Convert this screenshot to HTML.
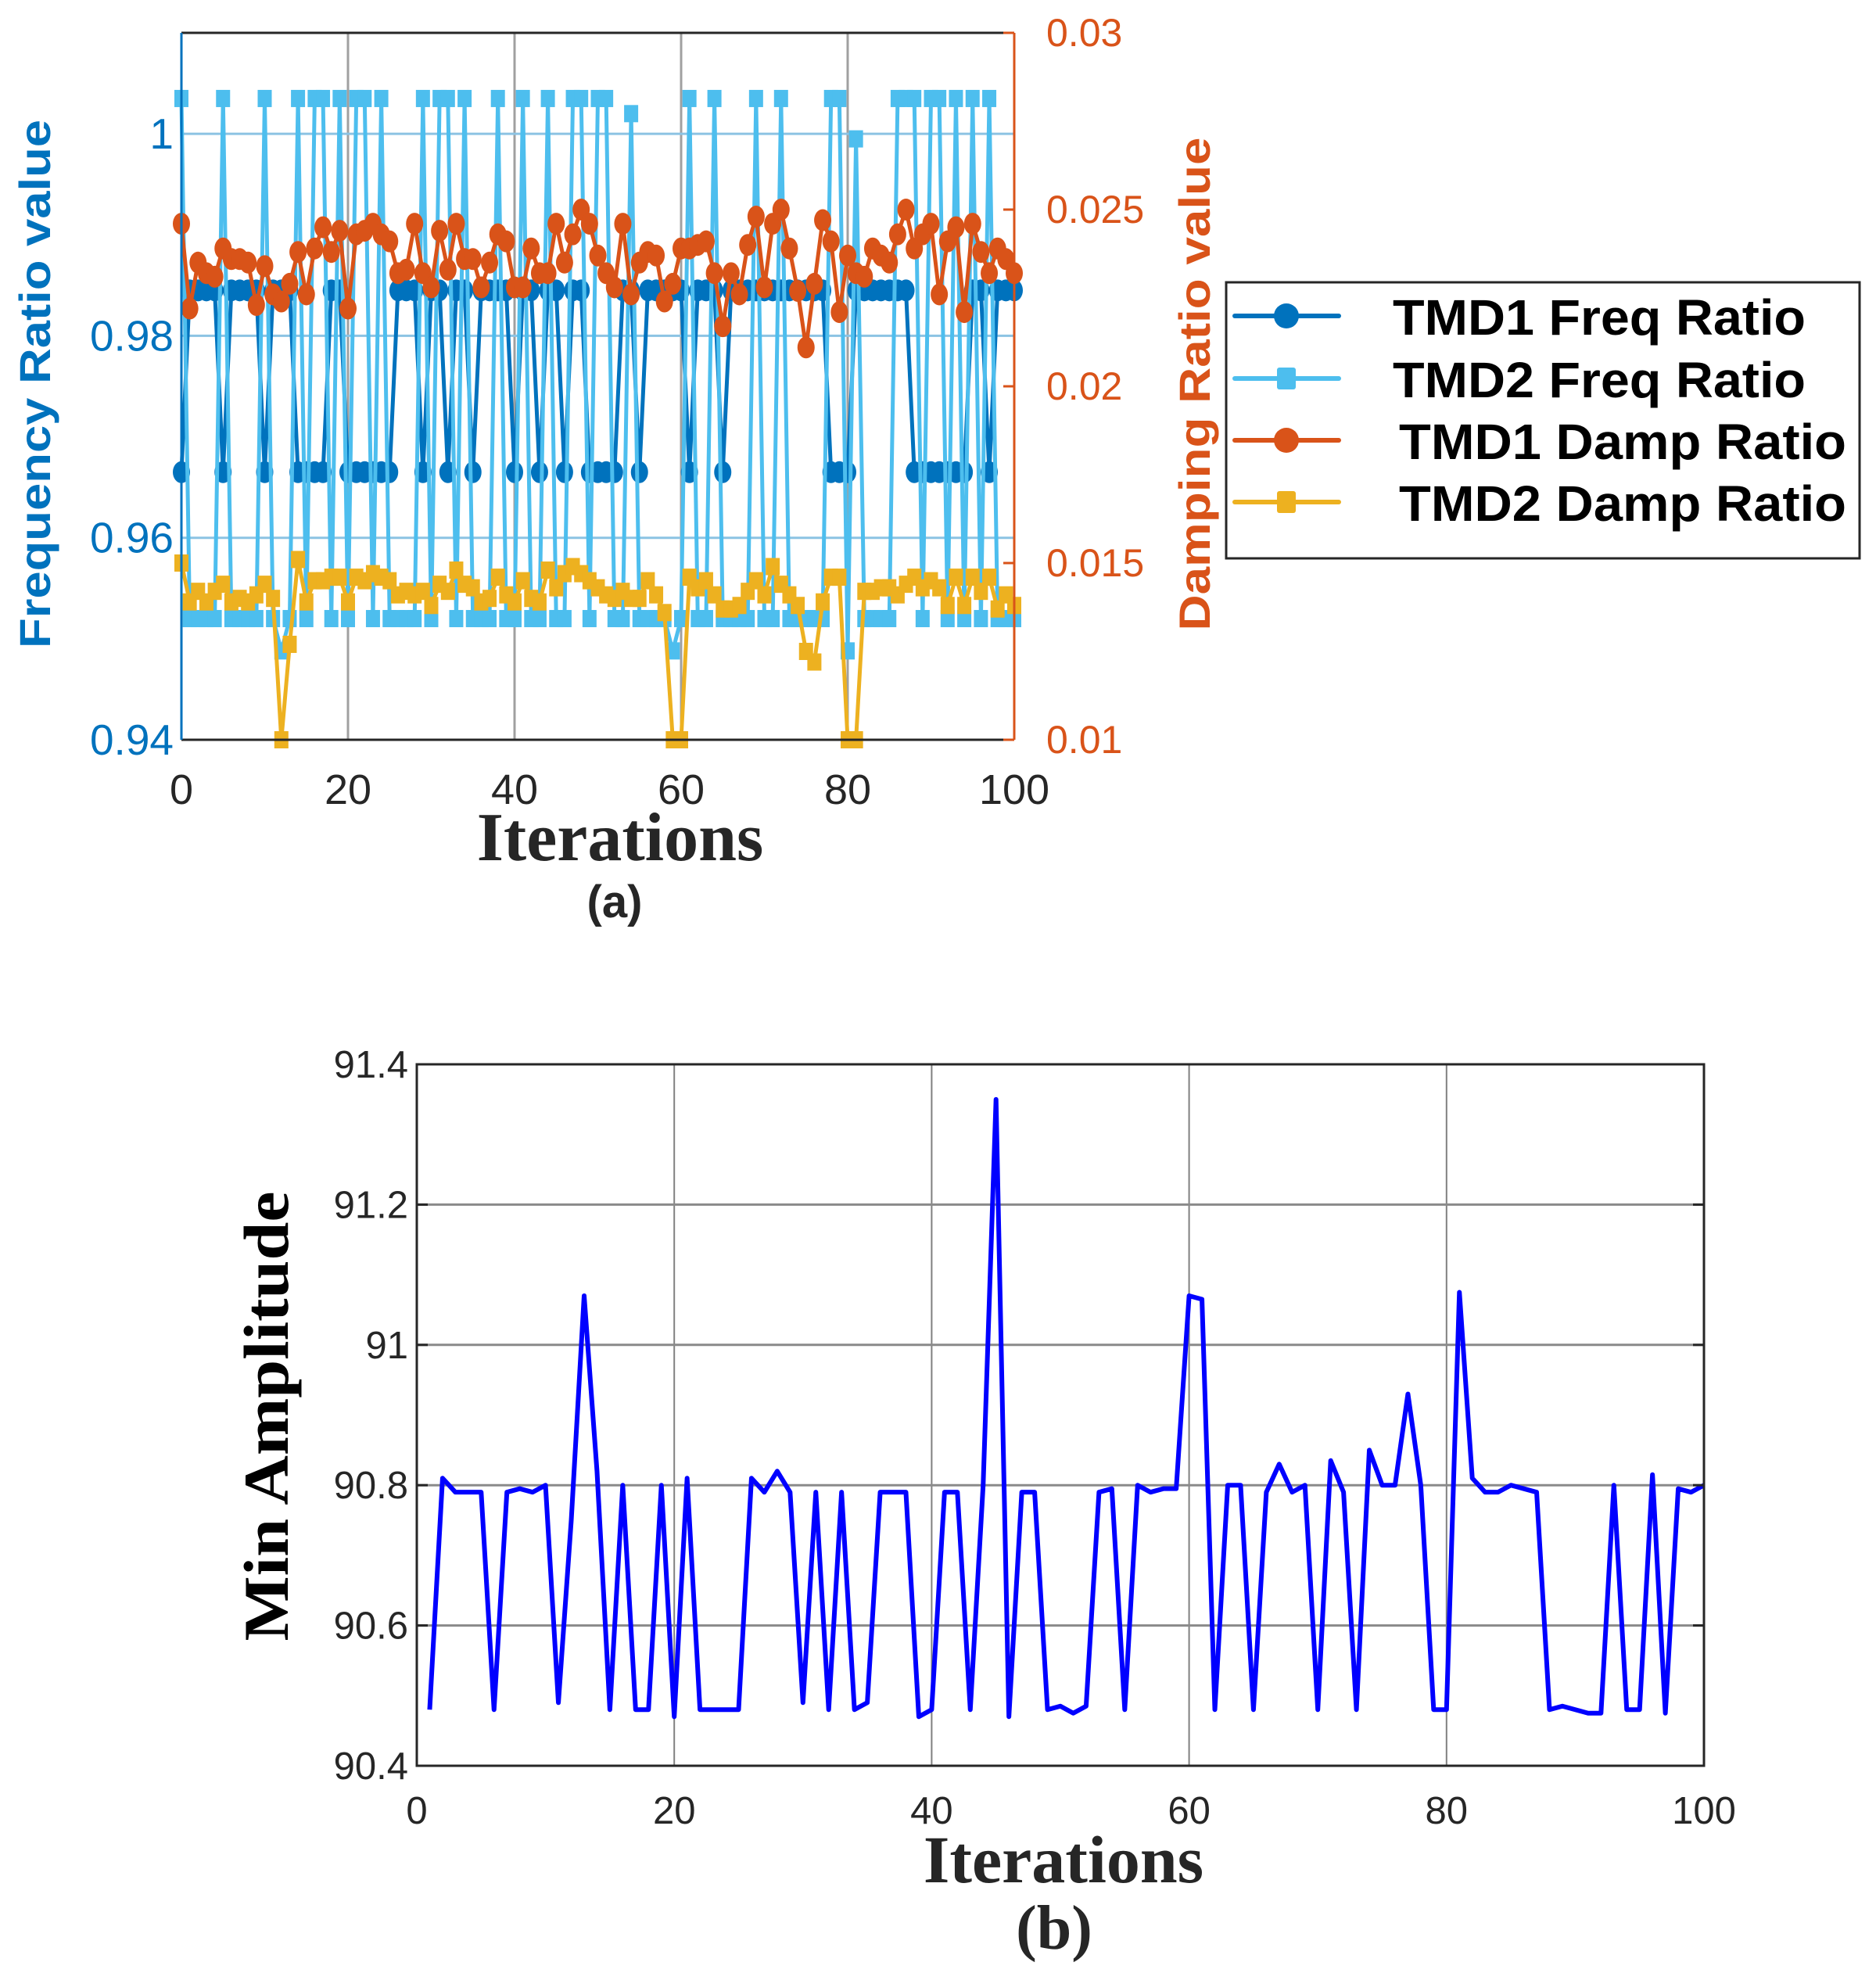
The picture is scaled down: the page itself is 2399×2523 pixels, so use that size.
<!DOCTYPE html>
<html><head><meta charset="utf-8"><style>
html,body{margin:0;padding:0;background:#fff;}
svg{display:block;}
</style></head><body>
<svg id="fig" xmlns="http://www.w3.org/2000/svg" width="2399" height="2523" viewBox="0 0 2399 2523">
<rect width="2399" height="2523" fill="#fff"/>
<g id="top"></g>
<g id="bot"></g>
</svg>
<script>
const xTicksA = [0,20,40,60,80,100];
const yTicksLeft = [0.94,0.96,0.98,1];
const yTickLabelsLeft = ['0.94','0.96','0.98','1'];
const yTicksRight = [0.01,0.015,0.02,0.025,0.03];
const yTickLabelsRight = ['0.01','0.015','0.02','0.025','0.03'];
const H=1.0035, L=0.952, h=0.9845, l=0.9665;
const tmd2Freq = [H,L,L,L,L,H,L,L,L,L,H,L,0.9488,L,H,L,H,H,L,H,L,H,H,L,H,L,L,L,L,H,L,H,H,L,H,L,L,L,H,L,L,H,L,L,H,L,L,H,H,L,H,H,L,L,1.002,L,L,L,L,0.9488,L,H,L,L,H,L,L,L,L,H,L,L,H,L,L,L,L,L,H,H,0.9488,0.9995,L,L,L,L,H,H,H,L,H,H,L,H,L,H,L,H,L,L,L];
const tmd1Freq = [l,h,h,h,h,l,h,h,h,h,l,h,h,h,l,l,l,l,h,h,l,l,l,l,l,l,h,h,h,l,h,h,l,h,h,l,h,h,h,h,l,h,h,l,h,h,l,h,h,l,l,l,l,h,h,l,h,h,h,h,h,l,h,h,h,l,h,h,h,h,h,h,h,h,h,h,h,h,l,l,l,h,h,h,h,h,h,h,l,l,l,l,l,l,l,h,h,l,h,h,h];
const tmd1Damp = [0.0246,0.0222,0.0235,0.0232,0.0231,0.0239,0.0236,0.0236,0.0235,0.0223,0.0234,0.0226,0.0224,0.0229,0.0238,0.0226,0.0239,0.0245,0.0238,0.0244,0.0222,0.0243,0.0244,0.0246,0.0243,0.0241,0.0232,0.0233,0.0246,0.0232,0.0228,0.0244,0.0233,0.0246,0.0236,0.0236,0.0228,0.0235,0.0243,0.0241,0.0228,0.0228,0.0239,0.0232,0.0232,0.0246,0.0235,0.0243,0.025,0.0246,0.0237,0.0232,0.0228,0.0246,0.0226,0.0235,0.0238,0.0237,0.0224,0.0229,0.0239,0.0239,0.024,0.0241,0.0232,0.0217,0.0232,0.0226,0.024,0.0248,0.0228,0.0246,0.025,0.0239,0.0227,0.0211,0.0229,0.0247,0.0241,0.0221,0.0237,0.0232,0.0231,0.0239,0.0237,0.0235,0.0243,0.025,0.0239,0.0243,0.0246,0.0226,0.0241,0.0245,0.0221,0.0246,0.0238,0.0232,0.0239,0.0236,0.0232];
const tmd2Damp = [0.0150,0.0139,0.0142,0.0139,0.0142,0.0144,0.0139,0.014,0.0139,0.0141,0.0144,0.014,0.010,0.0127,0.0151,0.0139,0.0145,0.0145,0.0146,0.0146,0.0139,0.0146,0.0145,0.0147,0.0146,0.0145,0.0141,0.0142,0.0141,0.0142,0.0138,0.0144,0.0142,0.0148,0.0144,0.0143,0.0139,0.014,0.0146,0.0141,0.0139,0.0145,0.014,0.0139,0.0148,0.0143,0.0147,0.0149,0.0147,0.0145,0.0143,0.0141,0.014,0.0142,0.014,0.014,0.0145,0.0141,0.0136,0.010,0.010,0.0146,0.0143,0.0145,0.0141,0.0137,0.0137,0.0138,0.0142,0.0145,0.0141,0.0149,0.0144,0.0141,0.0138,0.0125,0.0122,0.0139,0.0146,0.0146,0.010,0.010,0.0142,0.0142,0.0143,0.0143,0.0141,0.0144,0.0146,0.0143,0.0145,0.0143,0.0138,0.0146,0.0138,0.0146,0.0142,0.0146,0.0137,0.0141,0.0138];
const legendLabels = ['TMD1 Freq Ratio','TMD2 Freq Ratio','TMD1 Damp Ratio','TMD2 Damp Ratio'];

const xTicksB = [0,20,40,60,80,100];
const yTicksB = [90.4,90.6,90.8,91,91.2,91.4];
const yTickLabelsB = ['90.4','90.6','90.8','91','91.2','91.4'];
const minAmp = [90.48,90.81,90.79,90.79,90.79,90.48,90.79,90.795,90.79,90.80,90.49,90.75,91.07,90.82,90.48,90.80,90.48,90.48,90.80,90.47,90.81,90.48,90.48,90.48,90.48,90.81,90.79,90.82,90.79,90.49,90.79,90.48,90.79,90.48,90.49,90.79,90.79,90.79,90.47,90.48,90.79,90.79,90.48,90.80,91.35,90.47,90.79,90.79,90.48,90.485,90.475,90.485,90.79,90.795,90.48,90.80,90.79,90.795,90.795,91.07,91.065,90.48,90.80,90.80,90.48,90.79,90.83,90.79,90.80,90.48,90.835,90.79,90.48,90.85,90.80,90.80,90.93,90.80,90.48,90.48,91.075,90.81,90.79,90.79,90.80,90.795,90.79,90.48,90.485,90.48,90.475,90.475,90.80,90.48,90.48,90.815,90.475,90.795,90.79,90.80];

const NS='http://www.w3.org/2000/svg';
function mk(parent,tag,attrs,text){const e=document.createElementNS(NS,tag);for(const k in attrs)e.setAttribute(k,attrs[k]);if(text!==undefined)e.textContent=text;parent.appendChild(e);return e;}

// ---------- Chart A ----------
const A=document.getElementById('top');
const aL=232,aR=1297,aT=42,aB=946;
const ax=v=>aL+(v-0)/100*(aR-aL);
const ayL=v=>aB-(v-0.94)/(1.01-0.94)*(aB-aT);
const ayR=v=>aB-(v-0.01)/(0.03-0.01)*(aB-aT);
const cBlue='#0072BD',cLight='#4DBEEE',cOrange='#D95319',cYellow='#EDB120';
xTicksA.forEach(t=>{ if(t>0&&t<100){const g=mk(A,'line',{x1:ax(t),x2:ax(t),y1:aT,y2:aB,stroke:'#a0a0a0','stroke-width':3});

}});
yTicksLeft.forEach(t=>{ if(t>0.94){const g=mk(A,'line',{x1:aL,x2:aR,y1:ayL(t),y2:ayL(t),stroke:'#8cc3e3','stroke-width':3});

}});
function series(vals,yf,color,marker,name){
  const g=mk(A,'g',{});
  
  
  mk(g,'polyline',{points:vals.map((v,i)=>ax(i)+','+yf(v)).join(' '),fill:'none',stroke:color,'stroke-width':5,'stroke-linejoin':'round'});
  vals.forEach((v,i)=>{
    if(marker==='c') mk(g,'ellipse',{cx:ax(i),cy:yf(v),rx:11,ry:14,fill:color});
    else mk(g,'rect',{x:ax(i)-9,y:yf(v)-11,width:18,height:22,fill:color});
  });
}
series(tmd1Freq,ayL,cBlue,'c','series-tmd1-freq');
series(tmd2Freq,ayL,cLight,'s','series-tmd2-freq');
series(tmd1Damp,ayR,cOrange,'c','series-tmd1-damp');
series(tmd2Damp,ayR,cYellow,'s','series-tmd2-damp');
let e;
e=mk(A,'line',{x1:aL,x2:aR,y1:aT,y2:aT,stroke:'#262626','stroke-width':3});


e=mk(A,'line',{x1:aL,x2:aR,y1:aB,y2:aB,stroke:'#262626','stroke-width':3});


e=mk(A,'line',{x1:aL,x2:aL,y1:aT,y2:aB,stroke:cBlue,'stroke-width':3});


e=mk(A,'line',{x1:aR,x2:aR,y1:aT,y2:aB,stroke:cOrange,'stroke-width':3});


yTicksLeft.forEach((t,i)=>{
  e=mk(A,'text',{x:222,y:ayL(t)+19,'text-anchor':'end','font-family':'Liberation Sans, sans-serif','font-size':55,fill:cBlue},yTickLabelsLeft[i]);
  
  
});
yTicksRight.forEach((t,i)=>{
  mk(A,'line',{x1:aR-14,x2:aR,y1:ayR(t),y2:ayR(t),stroke:cOrange,'stroke-width':3});
  e=mk(A,'text',{x:1338,y:ayR(t)+17,'font-family':'Liberation Sans, sans-serif','font-size':50,fill:cOrange},yTickLabelsRight[i]);
  
  
});
xTicksA.forEach(t=>{
  e=mk(A,'text',{x:ax(t),y:1028,'text-anchor':'middle','font-family':'Liberation Sans, sans-serif','font-size':54,fill:'#262626'},String(t));
  
  
});
e=mk(A,'text',{x:793,y:1100,'text-anchor':'middle','font-family':'Liberation Serif, serif','font-weight':'bold','font-size':88,fill:'#262626'},'Iterations');


e=mk(A,'text',{x:786,y:1173,'text-anchor':'middle','font-family':'Liberation Sans, sans-serif','font-weight':'bold','font-size':58,fill:'#262626'},'(a)');


e=mk(A,'text',{x:0,y:0,transform:'translate(64,491) rotate(-90)','text-anchor':'middle','font-family':'Liberation Sans, sans-serif','font-weight':'bold','font-size':56,fill:cBlue,textLength:676,lengthAdjust:'spacingAndGlyphs'},'Frequency Ratio value');


e=mk(A,'text',{x:0,y:0,transform:'translate(1547,491) rotate(-90)','text-anchor':'middle','font-family':'Liberation Sans, sans-serif','font-weight':'bold','font-size':56,fill:cOrange,textLength:631,lengthAdjust:'spacingAndGlyphs'},'Damping Ratio value');


const lg=mk(A,'g',{});


mk(lg,'rect',{x:1568,y:361,width:810,height:353,fill:'#fff',stroke:'#262626','stroke-width':3});
const lgColors=[cBlue,cLight,cOrange,cYellow], lgY=[404,484,563,642], lgX=[1781,1781,1789,1789], lgW=[528,528,572,572];
legendLabels.forEach((lab,i)=>{
  const it=mk(lg,'g',{});
  
  
  mk(it,'line',{x1:1579,x2:1712,y1:lgY[i],y2:lgY[i],stroke:lgColors[i],'stroke-width':6,'stroke-linecap':'round'});
  if(i%2===0) mk(it,'ellipse',{cx:1645,cy:lgY[i],rx:16,ry:16,fill:lgColors[i]});
  else mk(it,'rect',{x:1633,y:lgY[i]-14,width:24,height:28,rx:3,fill:lgColors[i]});
  mk(it,'text',{x:lgX[i],y:lgY[i]+24,'font-family':'Liberation Sans, sans-serif','font-weight':'bold','font-size':64,fill:'#000',textLength:lgW[i],lengthAdjust:'spacingAndGlyphs'},lab);
});

// ---------- Chart B ----------
const B=document.getElementById('bot');
const bL=533,bR=2179,bT=1361,bB=2258;
const bx=v=>bL+v/100*(bR-bL);
const by=v=>bB-(v-90.4)/(1.0)*(bB-bT);
xTicksB.forEach(t=>{ if(t>0&&t<100){e=mk(B,'line',{x1:bx(t),x2:bx(t),y1:bT,y2:bB,stroke:'#808080','stroke-width':2});

}});
yTicksB.forEach(t=>{ if(t>90.4&&t<91.4){e=mk(B,'line',{x1:bL,x2:bR,y1:by(t),y2:by(t),stroke:'#8a8a8a','stroke-width':3});

}});
e=mk(B,'polyline',{points:minAmp.map((v,i)=>bx(i+1)+','+by(v)).join(' '),fill:'none',stroke:'#0000FF','stroke-width':6,'stroke-linejoin':'round'});


e=mk(B,'rect',{x:bL,y:bT,width:bR-bL,height:bB-bT,fill:'none',stroke:'#262626','stroke-width':3});


yTicksB.forEach((t,i)=>{
  mk(B,'line',{x1:bL,x2:bL+14,y1:by(t),y2:by(t),stroke:'#262626','stroke-width':3});
  mk(B,'line',{x1:bR-14,x2:bR,y1:by(t),y2:by(t),stroke:'#262626','stroke-width':3});
  e=mk(B,'text',{x:522,y:by(t)+17,'text-anchor':'end','font-family':'Liberation Sans, sans-serif','font-size':49,fill:'#262626'},yTickLabelsB[i]);
  
  
});
xTicksB.forEach(t=>{
  e=mk(B,'text',{x:bx(t),y:2332,'text-anchor':'middle','font-family':'Liberation Sans, sans-serif','font-size':49,fill:'#262626'},String(t));
  
  
});
e=mk(B,'text',{x:1360,y:2407,'text-anchor':'middle','font-family':'Liberation Serif, serif','font-weight':'bold','font-size':86,fill:'#262626'},'Iterations');


e=mk(B,'text',{x:1348,y:2492,'text-anchor':'middle','font-family':'Liberation Serif, serif','font-weight':'bold','font-size':80,fill:'#262626'},'(b)');


e=mk(B,'text',{x:0,y:0,transform:'translate(368,1811) rotate(-90)','text-anchor':'middle','font-family':'Liberation Serif, serif','font-weight':'bold','font-size':82,fill:'#000',textLength:575,lengthAdjust:'spacingAndGlyphs'},'Min Amplitude');


</script>
</body></html>
